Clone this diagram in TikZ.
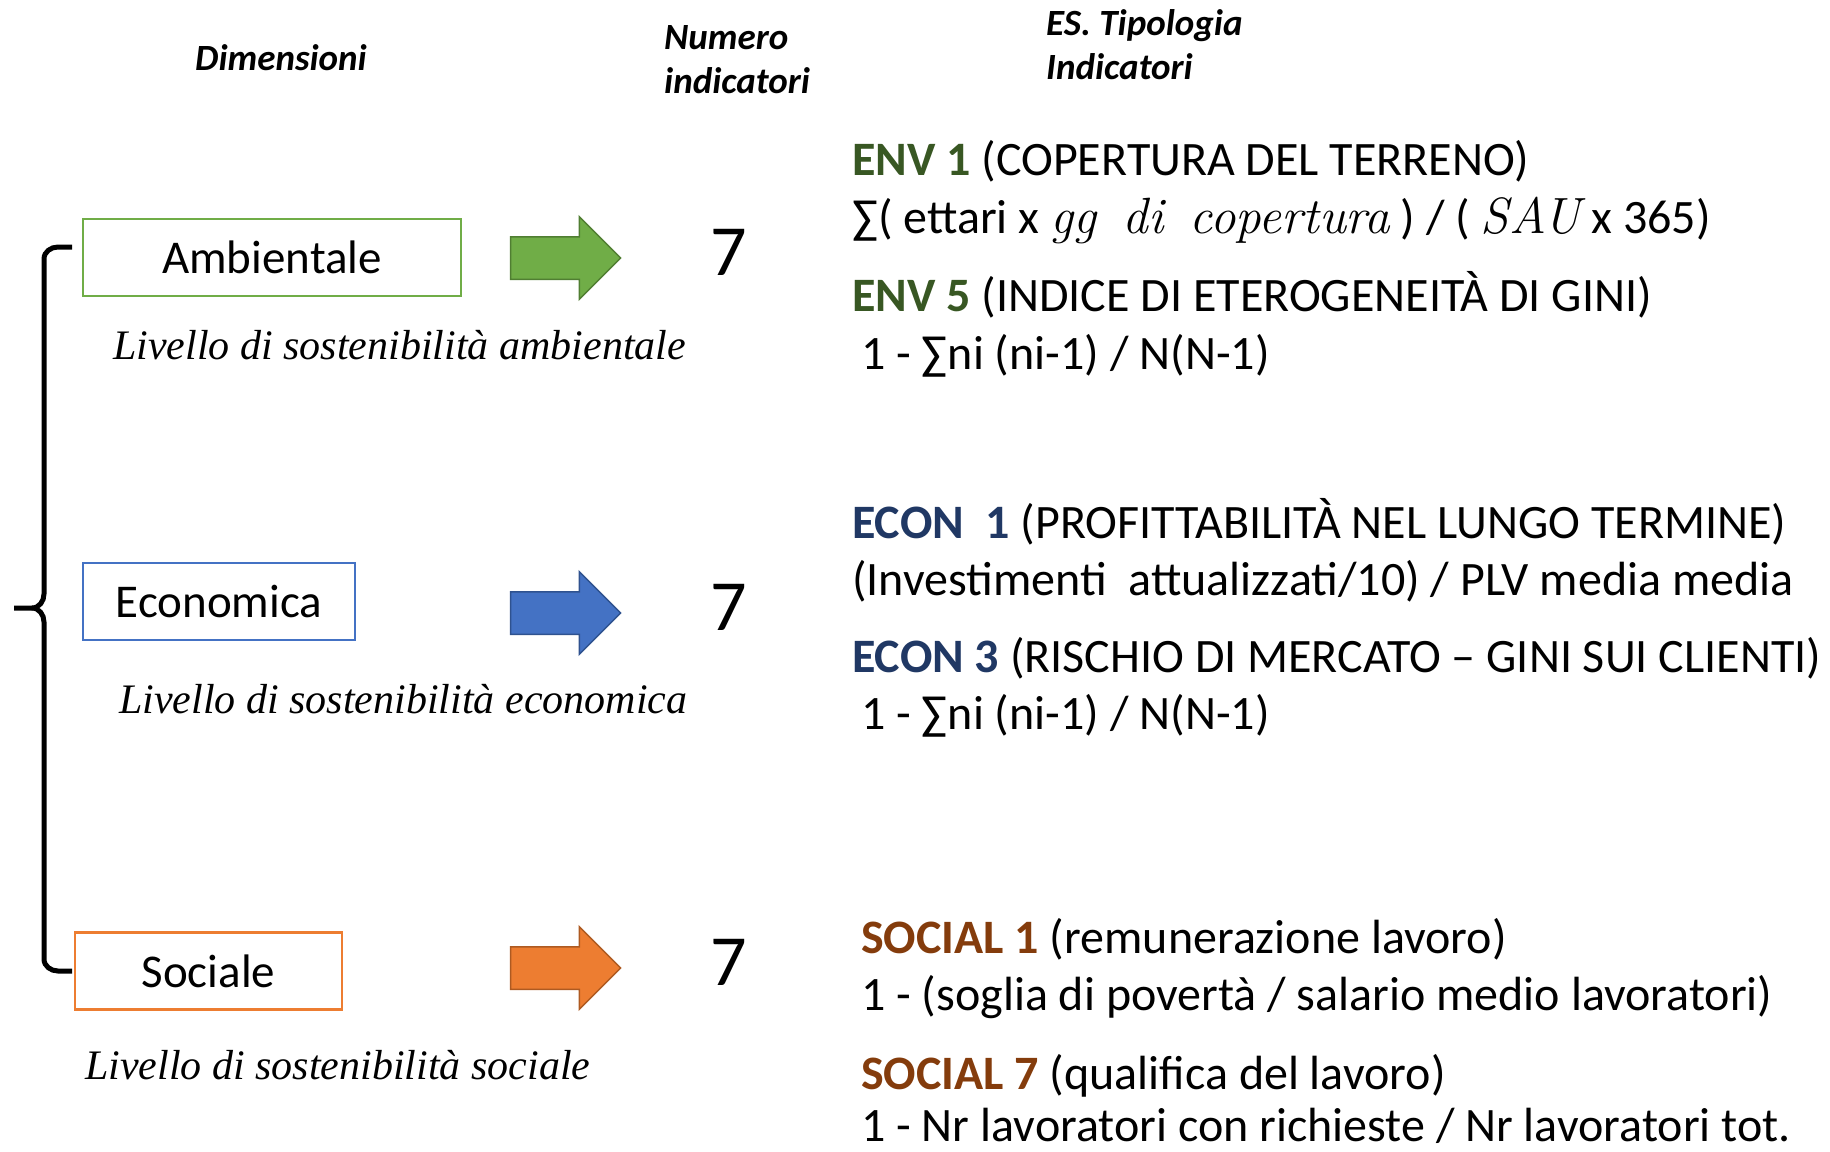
\documentclass[tikz,border=0pt]{standalone}
\usepackage{fontspec}
\newfontfamily\calibfont{Carlito}
\newfontfamily\levfont{Liberation Serif}
\usetikzlibrary{shapes.arrows}

\definecolor{ambgreen}{HTML}{70AD47}
\definecolor{ambgreendark}{HTML}{507E32}
\definecolor{ecoblue}{HTML}{4472C4}
\definecolor{ecobluedark}{HTML}{2F528F}
\definecolor{socorange}{HTML}{ED7D31}
\definecolor{socorangedark}{HTML}{AE5A21}
\definecolor{envtag}{HTML}{385723}
\definecolor{econtag}{HTML}{203864}
\definecolor{soctag}{HTML}{843C0C}

\newcommand{\varit}[1]{{\rmfamily\itshape\fontsize{51}{58}\selectfont #1}}

\begin{document}
\begin{tikzpicture}[x=1pt, y=-1pt,
  every node/.style = {inner sep=0pt, font=\calibfont},
  headtext/.style = {font=\calibfont\bfseries\itshape\fontsize{37}{44}\selectfont, align=left},
  dimbox/.style = {draw, line width=2.5pt, minimum height=77pt,
    font=\calibfont\fontsize{47}{56}\selectfont},
  blockarrow/.style = {single arrow, minimum height=110pt, inner xsep=0pt,
    inner ysep=20.5pt, single arrow head extend=20pt, line width=1.5pt},
  numtext/.style = {font=\calibfont\fontsize{72}{80}\selectfont},
  livello/.style = {anchor=west, font=\levfont\itshape\fontsize{42}{50}\selectfont},
  indline/.style = {anchor=base west, font=\calibfont\fontsize{48}{58}\selectfont},
  bracepen/.style = {line width=5pt}]
  \useasboundingbox (0,0) rectangle (1830,1151);

  % column titles
  \node[headtext] (hdim) at (281,58) {Dimensioni};
  \node[headtext, anchor=west] (hnum) at (664,60) {Numero\\indicatori};
  \node[headtext, anchor=west] (htip) at (1046,45) {ES. Tipologia\\Indicatori};

  % the three dimensions
  \node[dimbox, draw=ambgreen, minimum width=378pt] (amb) at (272,257.5) {Ambientale};
  \node[dimbox, draw=ecoblue, minimum width=272pt] (eco) at (219,601.5) {Economica};
  \node[dimbox, draw=socorange, minimum width=267pt] (soc) at (208.5,971) {Sociale};

  \node[livello] (amblev) at (113,345) {Livello di sostenibilità ambientale};
  \node[livello] (ecolev) at (119,699) {Livello di sostenibilità economica};
  \node[livello] (soclev) at (85,1065) {Livello di sostenibilità sociale};

  \node[blockarrow, fill=ambgreen, draw=ambgreendark] (ambarr) at (555,258) {};
  \node[blockarrow, fill=ecoblue, draw=ecobluedark] (ecoarr) at (555,613) {};
  \node[blockarrow, fill=socorange, draw=socorangedark] (socarr) at (555,968) {};

  \node[numtext] (ambnum) at (729,252) {7};
  \node[numtext] (econum) at (729,607) {7};
  \node[numtext] (socnum) at (729,962) {7};

  % brace
  \draw[bracepen] (72,247) -- (58,247) to[out=180,in=90] (44,259) -- (44,594)
    to[out=270,in=0] (32,608) -- (14,608);
  \draw[bracepen] (72,971) -- (58,971) to[out=180,in=270] (44,959) -- (44,622)
    to[out=90,in=0] (32,608);

  % indicators
  \node[indline] (env1) at (852,175) {\textbf{\color{envtag}ENV 1} (COPERTURA DEL TERRENO)};
  \node[indline] (env1f) at (852,233) {∑( ettari x \varit{gg\, di\, copertura} ) / ( \varit{SAU} x 365)};
  \node[indline] (env5) at (852,311) {\textbf{\color{envtag}ENV 5} (INDICE DI ETEROGENEITÀ DI GINI)};
  \node[indline] (env5f) at (861,369) {1 - ∑ni (ni-1) / N(N-1)};

  \node[indline] (econ1) at (852,538) {\textbf{\color{econtag}ECON\ \ 1} (PROFITTABILITÀ NEL LUNGO TERMINE)};
  \node[indline] (econ1f) at (852,595) {(Investimenti\ \ attualizzati/10) / PLV media media};
  \node[indline] (econ3) at (852,672) {\textbf{\color{econtag}ECON 3} (RISCHIO DI MERCATO – GINI SUI CLIENTI)};
  \node[indline] (econ3f) at (861,729) {1 - ∑ni (ni-1) / N(N-1)};

  \node[indline] (soc1) at (861,953) {\textbf{\color{soctag}SOCIAL 1} (remunerazione lavoro)};
  \node[indline] (soc1f) at (861,1010) {1 - (soglia di povertà / salario medio lavoratori)};
  \node[indline] (soc7) at (861,1089) {\textbf{\color{soctag}SOCIAL 7} (qualifica del lavoro)};
  \node[indline] (soc7f) at (861,1141) {1 - Nr lavoratori con richieste / Nr lavoratori tot.};
\end{tikzpicture}
\end{document}
